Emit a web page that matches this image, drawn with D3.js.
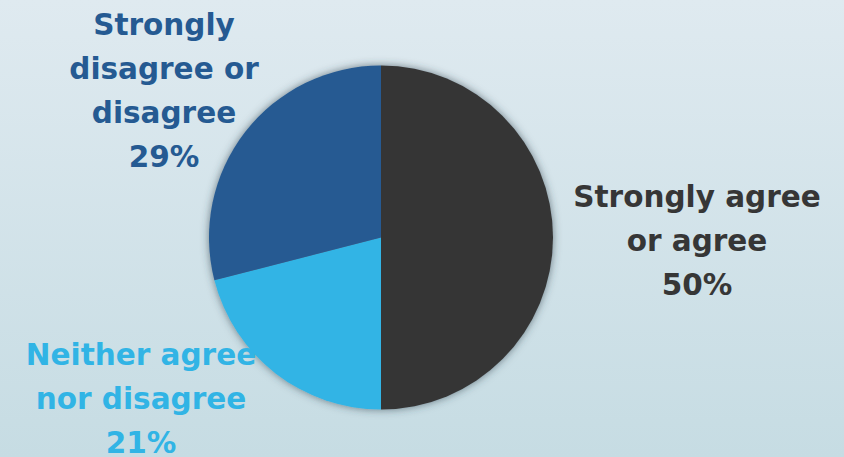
<!DOCTYPE html>
<html>
<head>
<meta charset="utf-8">
<script src="https://cdn.jsdelivr.net/npm/d3@7"></script>
<style>
  html, body { margin: 0; padding: 0; }
  svg { display: block; }
</style>
</head>
<body>
<svg id="plotarea"></svg>
<script>
// data
var categories = ["Strongly agree or agree", "Neither agree nor disagree", "Strongly disagree or disagree"];
var values = [50, 21, 29];
var labelLines = [
    ["Strongly agree", "or agree"],
    ["Neither agree", "nor disagree"],
    ["Strongly", "disagree or", "disagree"]
];
var colors = ["#363636", "#31b4e5", "#255a92"];

var width = 844, height = 457;
var cx = 381, cy = 237.5, radius = 172;
// where each label block's first baseline sits, relative to the pie centre
var labelPos = [[316, -31], [-240, 127], [-217, -203]];
var lineGap = 44;

var svg = d3.select("#plotarea")
    .attr("width", width)
    .attr("height", height);

var defs = svg.append("defs");
var grad = defs.append("linearGradient")
    .attr("id", "bg")
    .attr("x1", 0).attr("y1", 0).attr("x2", 0).attr("y2", 1);
grad.append("stop").attr("offset", "0%").attr("stop-color", "#dfeaf0");
grad.append("stop").attr("offset", "100%").attr("stop-color", "#c6dce3");

var shadow = defs.append("filter")
    .attr("id", "shadow")
    .attr("x", "-20%").attr("y", "-20%").attr("width", "140%").attr("height", "140%");
shadow.append("feDropShadow")
    .attr("dx", 0).attr("dy", 0)
    .attr("stdDeviation", 4.5)
    .attr("flood-color", "#33434e")
    .attr("flood-opacity", 0.65);

svg.append("rect")
    .attr("width", width)
    .attr("height", height)
    .attr("fill", "url(#bg)");

var pie = d3.pie().sort(null).value(function(d) { return d; });
var arc = d3.arc().innerRadius(0).outerRadius(radius);

var g = svg.append("g")
    .attr("transform", "translate(" + cx + "," + cy + ")");

g.append("g")
    .attr("filter", "url(#shadow)")
    .selectAll("path")
    .data(pie(values))
    .enter().append("path")
    .attr("d", arc)
    .attr("fill", function(d, i) { return colors[i]; });

var labels = g.selectAll(".label")
    .data(pie(values))
    .enter().append("text")
    .attr("class", "label")
    .attr("text-anchor", "middle")
    .attr("font-family", "'DejaVu Sans', sans-serif")
    .attr("font-weight", "bold")
    .attr("font-size", 29.5)
    .attr("fill", function(d, i) { return colors[i]; });

labels.each(function(d, i) {
    var t = d3.select(this);
    var lines = labelLines[i].concat([d3.format(".0f")(d.value) + "%"]);
    lines.forEach(function(s, k) {
        t.append("tspan")
            .attr("x", labelPos[i][0])
            .attr("y", labelPos[i][1] + k * lineGap)
            .text(s);
    });
});
</script>
</body>
</html>
